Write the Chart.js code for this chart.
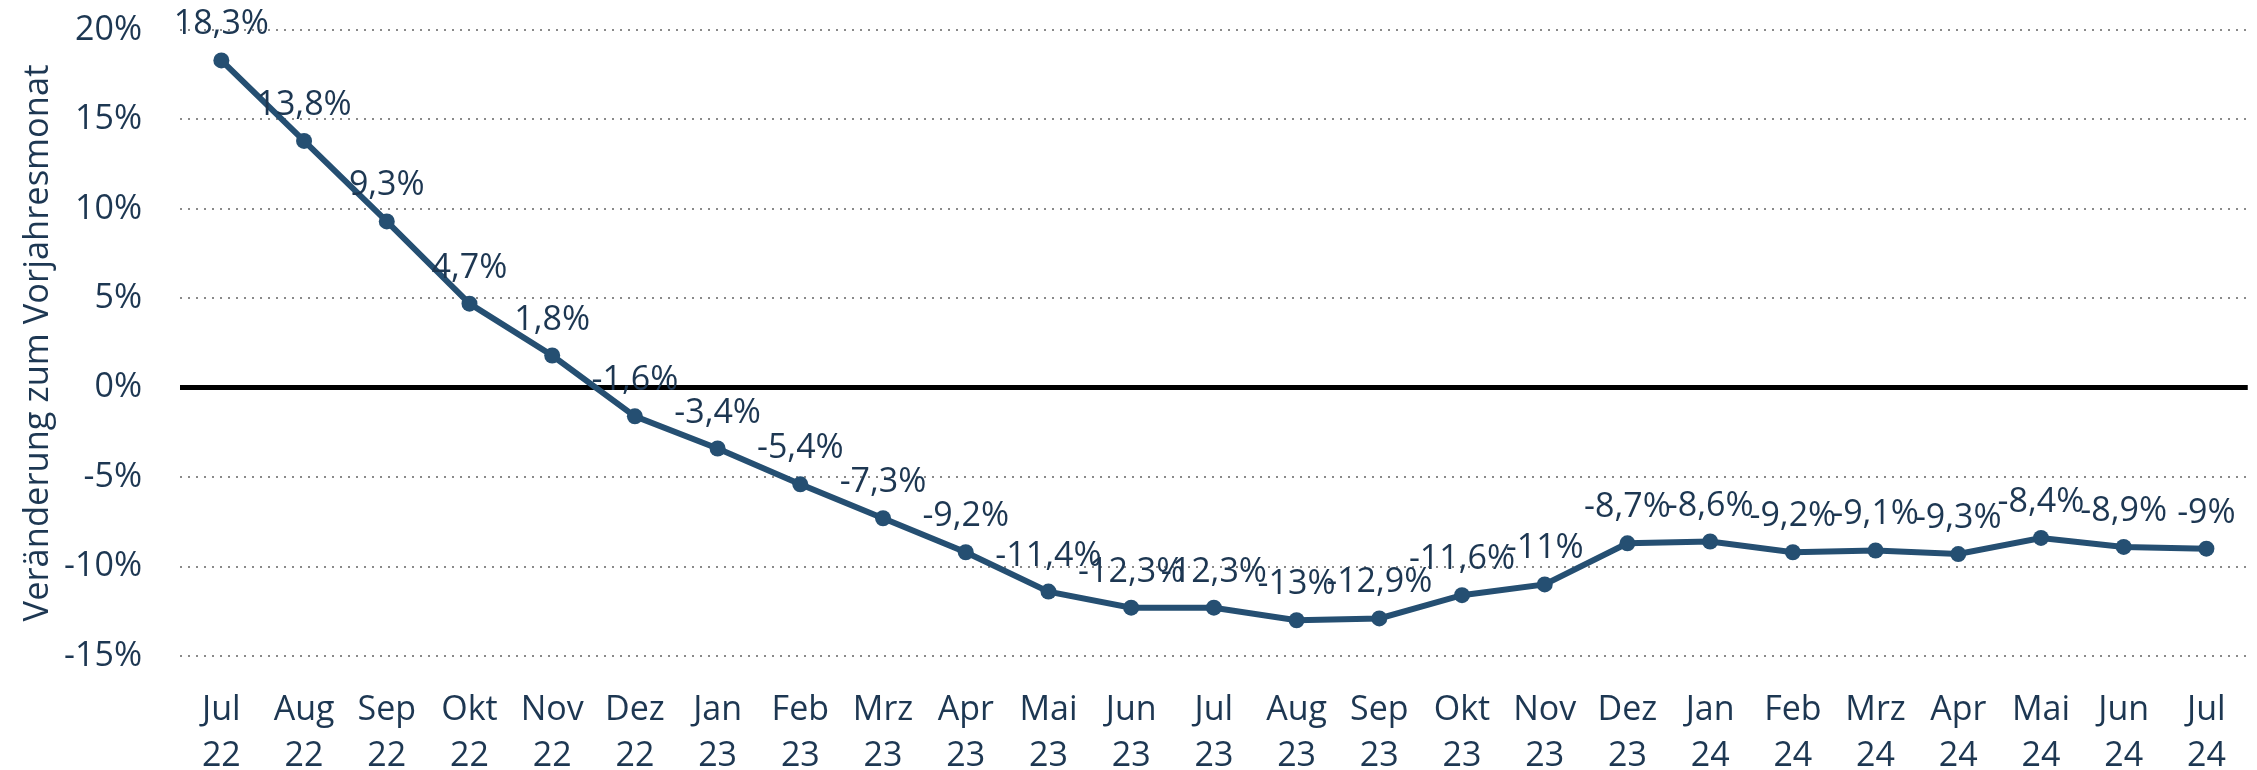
<!DOCTYPE html>
<html>
<head>
<meta charset="utf-8">
<script src="https://cdn.jsdelivr.net/npm/chart.js@4"></script>
<style>
  html, body { margin: 0; padding: 0; background: #fff; }
  #wrap { width: 2257px; height: 770px; }
</style>
</head>
<body>
<div id="wrap"><canvas id="chart" width="2257" height="770"></canvas></div>
<script>
// monthly change vs. same month of previous year, in percent
const months = ['Jul', 'Aug', 'Sep', 'Okt', 'Nov', 'Dez', 'Jan', 'Feb', 'Mrz', 'Apr', 'Mai', 'Jun', 'Jul',
                'Aug', 'Sep', 'Okt', 'Nov', 'Dez', 'Jan', 'Feb', 'Mrz', 'Apr', 'Mai', 'Jun', 'Jul'];
const years = ['22', '22', '22', '22', '22', '22', '23', '23', '23', '23', '23', '23', '23',
               '23', '23', '23', '23', '23', '24', '24', '24', '24', '24', '24', '24'];
const changes = [18.3, 13.8, 9.3, 4.7, 1.8, -1.6, -3.4, -5.4, -7.3, -9.2, -11.4, -12.3, -12.3,
                 -13, -12.9, -11.6, -11, -8.7, -8.6, -9.2, -9.1, -9.3, -8.4, -8.9, -9];
const yTicks = [-15, -10, -5, 0, 5, 10, 15, 20];
const axisTitle = 'Veränderung zum Vorjahresmonat';

const textColor = '#1d3752';
const lineColor = '#254f72';
const fontFamily = '"Open Sans", "Noto Sans", sans-serif';

const labels = months.map((m, i) => [m, years[i]]);

function pct(v) {
    return String(v).replace('.', ',') + '%';
}

// value labels above each point
const pointLabels = {
    id: 'pointLabels',
    afterDatasetsDraw(chart) {
        const ctx = chart.ctx;
        const meta = chart.getDatasetMeta(0);
        ctx.save();
        ctx.font = '34px ' + fontFamily;
        ctx.fillStyle = textColor;
        ctx.textAlign = 'center';
        ctx.textBaseline = 'alphabetic';
        meta.data.forEach((pt, i) => {
            ctx.fillText(pct(changes[i]), pt.x, pt.y - 26);
        });
        ctx.restore();
    }
};

const ctx = document.getElementById('chart').getContext('2d');

const myChart = new Chart(ctx, {
    type: 'line',
    data: {
        labels: labels,
        datasets: [{
            data: changes,
            borderColor: lineColor,
            backgroundColor: lineColor,
            borderWidth: 6,
            pointRadius: 8,
            pointBorderWidth: 0,
            pointBackgroundColor: lineColor,
            tension: 0,
            clip: false
        }]
    },
    options: {
        responsive: false,
        devicePixelRatio: 1,
        animation: false,
        layout: { padding: { left: 10, right: 7, top: 30, bottom: 0 } },
        plugins: {
            legend: { display: false },
            tooltip: { enabled: false }
        },
        scales: {
            x: {
                offset: true,
                grid: { display: false, drawTicks: false },
                border: { display: false },
                ticks: {
                    color: textColor,
                    font: { family: fontFamily, size: 34, lineHeight: 1.36 },
                    padding: 31,
                    maxRotation: 0,
                    autoSkip: false
                },
                afterFit: s => { s.height = 114; }
            },
            y: {
                min: -15,
                max: 20,
                afterBuildTicks: s => { s.ticks = yTicks.map(v => ({ value: v })); },
                grid: {
                    drawTicks: false,
                    color: c => c.tick && c.tick.value === 0 ? '#000' : '#8a8a8a',
                    lineWidth: c => c.tick && c.tick.value === 0 ? 5 : 2
                },
                border: {
                    display: false,
                    dash: c => c.tick && c.tick.value === 0 ? [] : [2, 6]
                },
                ticks: {
                    color: textColor,
                    font: { family: fontFamily, size: 34 },
                    padding: 38,
                    callback: v => v + '%'
                },
                title: {
                    display: true,
                    text: axisTitle,
                    color: textColor,
                    font: { family: fontFamily, size: 34.5 },
                    padding: { top: 7, bottom: 0 }
                },
                // fixed axis width; tick padding shouldn't push the plot down
                afterFit: s => {
                    s.width = 170;
                    s.paddingTop = 0;
                    s.paddingBottom = 0;
                }
            }
        }
    },
    plugins: [pointLabels]
});
</script>
</body>
</html>
